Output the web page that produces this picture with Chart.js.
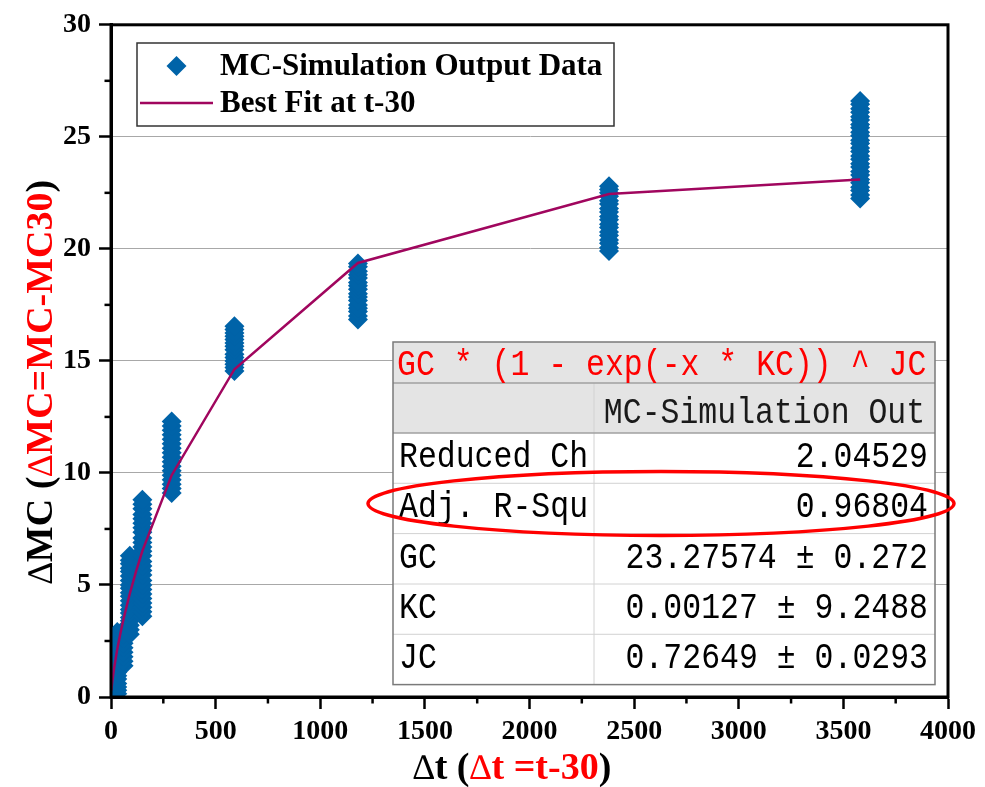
<!DOCTYPE html>
<html>
<head>
<meta charset="utf-8">
<script src="https://cdn.jsdelivr.net/npm/chart.js@4.4.1/dist/chart.umd.min.js"></script>
<style>
  body { margin: 0; background: #fff; }
  #wrap { width: 985px; height: 787px; }
</style>
</head>
<body>
<div id="wrap"><canvas id="mcChart" width="985" height="787"></canvas></div>
<script>
// Δt groups (Δt = t - 30) and the simulated ΔMC values at each of them
const dtGroups = [30, 60, 90, 150, 290, 590, 1180, 2380, 3580];
const mcAt30 = [0.15, 0.3, 0.45, 0.6, 0.8, 0.95, 1.1, 1.3, 1.45, 1.6, 1.8, 1.95, 2.1, 2.3, 2.45, 2.6, 2.75, 2.9];
const mcAt60 = [1.4, 1.6, 1.8, 2.0, 2.2, 2.4, 2.6, 2.8, 3.0];
const mcAt90 = [2.8, 3.0, 3.2, 3.4, 3.55, 3.75, 3.9, 4.1, 4.3, 4.5, 4.65, 4.85, 5.0, 5.2, 5.4, 5.6, 5.75, 5.95, 6.1, 6.3];
const mcAt150 = [3.6, 3.8, 4.0, 4.2, 4.4, 4.6, 4.8, 5.0, 5.2, 5.45, 5.65, 5.85, 6.05, 6.3, 6.5, 6.7, 6.9, 7.1, 7.35, 7.55, 7.75, 7.95, 8.15, 8.4, 8.6, 8.8];
const mcAt290 = [9.1, 9.3, 9.5, 9.7, 9.9, 10.1, 10.3, 10.5, 10.7, 10.9, 11.1, 11.3, 11.5, 11.7, 11.9, 12.1, 12.3];
const mcAt590 = [14.55, 14.7, 14.85, 15.0, 15.15, 15.3, 15.5, 15.65, 15.8, 15.95, 16.1, 16.25, 16.4, 16.55];
const mcAt1180 = [16.85, 17.0, 17.2, 17.35, 17.5, 17.7, 17.85, 18.0, 18.2, 18.35, 18.5, 18.7, 18.85, 19.0, 19.2, 19.35];
const mcAt2380 = [19.9, 20.05, 20.25, 20.4, 20.6, 20.75, 20.95, 21.1, 21.3, 21.45, 21.65, 21.8, 22.0, 22.15, 22.35, 22.5, 22.65, 22.8];
const mcAt3580 = [22.25, 22.4, 22.6, 22.75, 22.95, 23.1, 23.3, 23.45, 23.65, 23.8, 24.0, 24.15, 24.35, 24.5, 24.7, 24.85, 25.05, 25.2, 25.4, 25.55, 25.75, 25.9, 26.1, 26.25, 26.45, 26.6];
const mcGroups = [mcAt30, mcAt60, mcAt90, mcAt150, mcAt290, mcAt590, mcAt1180, mcAt2380, mcAt3580];

// best fit curve, sampled at the simulation times
const fitDt = [2, 5, 10, 15, 30, 45, 60, 90, 120, 150, 290, 590, 1180, 2380, 3580];
const fitMc = [0.30, 0.59, 0.97, 1.30, 2.14, 2.85, 3.49, 4.62, 5.62, 6.52, 9.90, 14.63, 19.37, 22.45, 23.10];

// fit report shown in the table
const fitFormula = 'GC * (1 - exp(-x * KC)) ^ JC';
const fitColumn = 'MC-Simulation Out';
const statNames = ['Reduced Ch', 'Adj. R-Squ', 'GC', 'KC', 'JC'];
const statValues = ['2.04529', '0.96804', '23.27574 ± 0.272', '0.00127 ± 9.2488', '0.72649 ± 0.0293'];

const BLUE = '#0063a8';
const WINE = '#a0065e';
const RED = '#ff0000';
const SERIF = '"Liberation Serif", "Times New Roman", serif';
const MONO = '"Liberation Mono", "Courier New", monospace';

const simPoints = [];
dtGroups.forEach((dt, i) => {
  mcGroups[i].forEach((mc) => simPoints.push({ x: dt, y: mc }));
});
const fitPoints = fitDt.map((dt, i) => ({ x: dt, y: fitMc[i] }));

// draws a string made of differently styled pieces, centred on (0, 0)
// each piece: [text, colour, font]
function drawPieces(ctx, pieces) {
  let total = 0;
  pieces.forEach(([text, , font]) => {
    ctx.font = font;
    total += ctx.measureText(text).width;
  });
  let x = -total / 2;
  ctx.textAlign = 'left';
  pieces.forEach(([text, color, font]) => {
    ctx.font = font;
    ctx.fillStyle = color;
    ctx.fillText(text, x, 0);
    x += ctx.measureText(text).width;
  });
}

function monoText(ctx, text, x, y, align, color) {
  ctx.save();
  ctx.translate(x, y);
  ctx.scale(1, 1.18);
  ctx.font = '31.5px ' + MONO;
  ctx.textAlign = align;
  ctx.textBaseline = 'alphabetic';
  ctx.fillStyle = color;
  ctx.fillText(text, 0, 0);
  ctx.restore();
}

function line(ctx, x1, y1, x2, y2) {
  ctx.beginPath();
  ctx.moveTo(x1, y1);
  ctx.lineTo(x2, y2);
  ctx.stroke();
}

const extrasPlugin = {
  id: 'extras',
  afterDatasetsDraw(chart) {
    const { ctx, chartArea: a, scales: { x, y } } = chart;
    ctx.save();

    // minor ticks
    ctx.strokeStyle = '#000';
    ctx.lineWidth = 2.5;
    for (let v = 250; v < 4000; v += 500) {
      const px = x.getPixelForValue(v);
      line(ctx, px, a.bottom, px, a.bottom + 6.5);
    }
    for (let v = 2.5; v < 30; v += 5) {
      const py = y.getPixelForValue(v);
      line(ctx, a.left - 6.5, py, a.left, py);
    }

    // frame around the plot
    ctx.lineWidth = 3;
    ctx.strokeRect(a.left, a.top, a.right - a.left, a.bottom - a.top);

    // legend
    const lg = { left: 137, top: 43, right: 614, bottom: 126 };
    ctx.fillStyle = '#fff';
    ctx.fillRect(lg.left, lg.top, lg.right - lg.left, lg.bottom - lg.top);
    ctx.strokeStyle = '#333';
    ctx.lineWidth = 1.5;
    ctx.strokeRect(lg.left, lg.top, lg.right - lg.left, lg.bottom - lg.top);
    const sets = chart.data.datasets;
    ctx.fillStyle = BLUE;
    ctx.beginPath();
    ctx.moveTo(176.5, 56);
    ctx.lineTo(186.5, 66);
    ctx.lineTo(176.5, 76);
    ctx.lineTo(166.5, 66);
    ctx.closePath();
    ctx.fill();
    ctx.strokeStyle = WINE;
    ctx.lineWidth = 2.5;
    line(ctx, 140, 103, 213, 103);
    ctx.fillStyle = '#000';
    ctx.font = 'bold 31px ' + SERIF;
    ctx.textAlign = 'left';
    ctx.textBaseline = 'alphabetic';
    ctx.fillText(sets[1].label, 220, 75);
    ctx.fillText(sets[0].label, 220, 112);

    // fit report table
    const t = { left: 393, right: 935, mid: 594 };
    const rows = [342, 383, 433, 483.3, 533.6, 584, 634.3, 684.6];
    ctx.fillStyle = '#fff';
    ctx.fillRect(t.left, rows[0], t.right - t.left, rows[7] - rows[0]);
    ctx.fillStyle = '#e4e4e4';
    ctx.fillRect(t.left, rows[0], t.right - t.left, rows[2] - rows[0]);
    ctx.lineWidth = 1;
    ctx.strokeStyle = '#d2d2d2';
    for (let i = 3; i < 7; i++) line(ctx, t.left, rows[i], t.right, rows[i]);
    line(ctx, t.mid, rows[1], t.mid, rows[7]);
    ctx.strokeStyle = '#a0a0a0';
    ctx.lineWidth = 1.5;
    line(ctx, t.left, rows[1], t.right, rows[1]);
    line(ctx, t.left, rows[2], t.right, rows[2]);
    ctx.strokeStyle = '#7a7a7a';
    ctx.strokeRect(t.left, rows[0], t.right - t.left, rows[7] - rows[0]);

    monoText(ctx, fitFormula, 397, rows[0] + 33, 'left', RED);
    monoText(ctx, fitColumn, (t.mid + t.right) / 2, rows[1] + 40, 'center', '#1a1a1a');
    statNames.forEach((name, i) => {
      monoText(ctx, name, 399, rows[i + 2] + 34, 'left', '#000');
      monoText(ctx, statValues[i], 928, rows[i + 2] + 34, 'right', '#000');
    });

    // highlight around the adjusted R-square row
    ctx.strokeStyle = RED;
    ctx.lineWidth = 3.5;
    ctx.beginPath();
    ctx.ellipse(661, 503.5, 293, 32, 0, 0, Math.PI * 2);
    ctx.stroke();

    ctx.restore();
  },
  afterDraw(chart) {
    const { ctx } = chart;
    const bold = 'bold 38px ' + SERIF;
    const delta = '36px ' + SERIF;
    ctx.save();
    ctx.textBaseline = 'alphabetic';

    ctx.save();
    ctx.translate(512, 779);
    drawPieces(ctx, [
      ['∆', '#000', delta], ['t (', '#000', bold],
      ['∆', RED, delta], ['t =t-30', RED, bold], [')', '#000', bold],
    ]);
    ctx.restore();

    ctx.save();
    ctx.translate(52, 382);
    ctx.rotate(-Math.PI / 2);
    drawPieces(ctx, [
      ['∆', '#000', delta], ['MC (', '#000', bold],
      ['∆', RED, delta], ['MC=MC-MC30', RED, bold], [')', '#000', bold],
    ]);
    ctx.restore();

    ctx.restore();
  },
};

const tickFont = { family: SERIF, size: 28, weight: 'bold' };
const plainNumber = (value) => String(value);

new Chart(document.getElementById('mcChart').getContext('2d'), {
  type: 'scatter',
  data: {
    datasets: [
      {
        label: 'Best Fit at t-30',
        type: 'line',
        data: fitPoints,
        borderColor: WINE,
        borderWidth: 2.5,
        pointRadius: 0,
        fill: false,
        tension: 0,
        clip: 0,
      },
      {
        label: 'MC-Simulation Output Data',
        data: simPoints,
        pointStyle: 'rectRot',
        pointRadius: 10,
        pointHoverRadius: 10,
        backgroundColor: BLUE,
        borderColor: BLUE,
        borderWidth: 0,
        clip: 0,
      },
    ],
  },
  options: {
    responsive: false,
    animation: false,
    layout: { padding: { top: 24, right: 37, left: 0, bottom: 0 } },
    plugins: {
      legend: { display: false },
      tooltip: { enabled: false },
    },
    scales: {
      x: {
        type: 'linear',
        min: 0,
        max: 4000,
        afterFit: (scale) => { scale.height = 90; },
        ticks: { stepSize: 500, font: tickFont, color: '#000', padding: 6, maxRotation: 0, callback: plainNumber },
        grid: { drawOnChartArea: false, tickLength: 12, tickWidth: 2.5, tickColor: '#000' },
        border: { color: '#000', width: 3 },
      },
      y: {
        min: 0,
        max: 30,
        afterFit: (scale) => { scale.width = 111; },
        ticks: { stepSize: 5, font: tickFont, color: '#000', padding: 8, callback: plainNumber },
        grid: { color: '#a8a8a8', lineWidth: 1, tickLength: 12, tickWidth: 2.5, tickColor: '#000' },
        border: { color: '#000', width: 3 },
      },
    },
  },
  plugins: [extrasPlugin],
});
</script>
</body>
</html>
